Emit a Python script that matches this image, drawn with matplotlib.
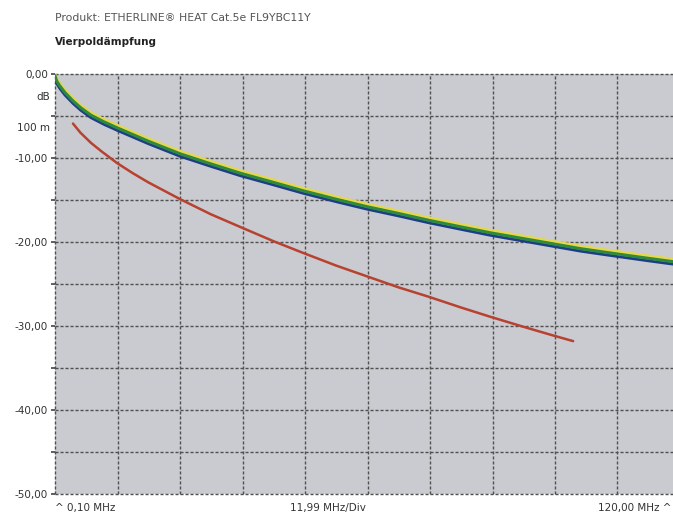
import matplotlib
matplotlib.use('Agg')
import matplotlib.pyplot as plt
import matplotlib.transforms as mtransforms

# frequency in MHz, attenuation in dB
freq_bundle = [0.1, 0.4, 1.0, 2.0, 3.55, 5.0, 7.0, 9.5, 12.0, 15.0, 18.0, 24.1, 30.0, 35.6,
               42.0, 47.7, 54.0, 60.0, 66.0, 71.7, 78.0, 83.6, 90.0, 95.5, 101.0, 107.7, 114.0, 120.0]
att_yellow = [0.0, -0.5, -1.1, -1.9, -2.9, -3.7, -4.6, -5.4, -6.1, -6.9, -7.7, -9.2, -10.4, -11.5,
              -12.6, -13.6, -14.6, -15.5, -16.3, -17.1, -17.9, -18.6, -19.3, -19.9, -20.5, -21.1, -21.65, -22.15]
att_green = [-0.2, -0.8, -1.4, -2.2, -3.2, -4.0, -4.9, -5.7, -6.4, -7.2, -8.0, -9.5, -10.7, -11.8,
             -12.9, -13.9, -14.9, -15.8, -16.6, -17.4, -18.2, -18.9, -19.6, -20.2, -20.8, -21.4, -21.95, -22.45]
att_blue = [-0.4, -1.1, -1.7, -2.5, -3.5, -4.3, -5.2, -6.0, -6.7, -7.5, -8.3, -9.8, -11.0, -12.1,
            -13.2, -14.2, -15.2, -16.1, -16.9, -17.7, -18.5, -19.2, -19.9, -20.5, -21.1, -21.7, -22.25, -22.75]

freq_red = [3.55, 5.0, 7.0, 9.0, 12.0, 15.0, 18.0, 24.1, 30.0, 35.6, 42.0, 47.7, 54.0, 60.0,
            66.0, 71.7, 78.0, 83.6, 90.0, 95.5, 99.5]
att_red = [-5.9, -7.0, -8.2, -9.2, -10.6, -11.8, -12.9, -14.9, -16.7, -18.2, -19.9, -21.3, -22.8, -24.1,
           -25.4, -26.5, -27.8, -28.9, -30.1, -31.1, -31.8]

y_ticks = [0, -10, -20, -30, -40, -50]
y_ticklabels = ['0,00', '-10,00', '-20,00', '-30,00', '-40,00', '-50,00']
y_grid = [0, -5, -10, -15, -20, -25, -30, -35, -40, -45, -50]
f_start, f_div, n_div = 0.10, 11.99, 10
x_grid = [f_start + i * f_div for i in range(n_div + 1)]

title = 'Produkt: ETHERLINE\u00ae HEAT Cat.5e FL9YBC11Y'
subtitle = 'Vierpold\u00e4mpfung'

fig = plt.figure(figsize=(6.73, 5.16), dpi=100)
W, H = 673, 516
ax = fig.add_axes([55 / W, 22 / H, 625 / W, 420 / H])
ax.set_facecolor('#c9cbd0')
ax.set_xlim(x_grid[0], x_grid[-1])
ax.set_ylim(-50, 0)

grid_kw = dict(color='#505050', lw=1.0, linestyle=(0, (2.2, 1.4)), zorder=1, clip_on=False)
for g in y_grid:
    ax.axhline(g, **grid_kw)
for g in x_grid:
    ax.axvline(g, **grid_kw)

ax.plot(freq_bundle, att_yellow, color='#e6d84a', lw=2.0, zorder=3, solid_capstyle='round')
ax.plot(freq_bundle, att_blue, color='#1d3d86', lw=2.0, zorder=3, solid_capstyle='round')
ax.plot(freq_bundle, att_green, color='#2f8a3c', lw=2.2, zorder=4, solid_capstyle='round')
ax.plot(freq_red, att_red, color='#b8412f', lw=1.8, zorder=3, solid_capstyle='round')

for s in ax.spines.values():
    s.set_visible(False)
ax.set_xticks([])
ax.set_yticks(y_grid)
ax.set_yticklabels([y_ticklabels[y_ticks.index(v)] if v in y_ticks else '' for v in y_grid])
ax.tick_params(axis='y', length=3, width=1.2, color='#444444', pad=2,
               labelsize=7.5, labelcolor='#333333')

trans = mtransforms.blended_transform_factory(ax.transAxes, ax.transData)
ax.text(-0.008, -2.7, 'dB', transform=trans, ha='right', va='center', fontsize=7.5, color='#333333')
ax.text(-0.008, -6.4, '100 m', transform=trans, ha='right', va='center', fontsize=7.5, color='#333333')

fig.text(55 / W, 1 - 18 / H, title, fontsize=7.8, color='#555555', va='center')
fig.text(55 / W, 1 - 42 / H, subtitle, fontsize=7.5, color='#222222', weight='bold', va='center')

fig.text(55 / W, 1 - 508 / H, '^ 0,10 MHz', fontsize=7.5, color='#333333', va='center')
fig.text(328 / W, 1 - 508 / H, '11,99 MHz/Div', fontsize=7.5, color='#333333', va='center', ha='center')
fig.text(671 / W, 1 - 508 / H, '120,00 MHz ^', fontsize=7.5, color='#333333', va='center', ha='right')

fig.savefig('out.png', dpi=100)
